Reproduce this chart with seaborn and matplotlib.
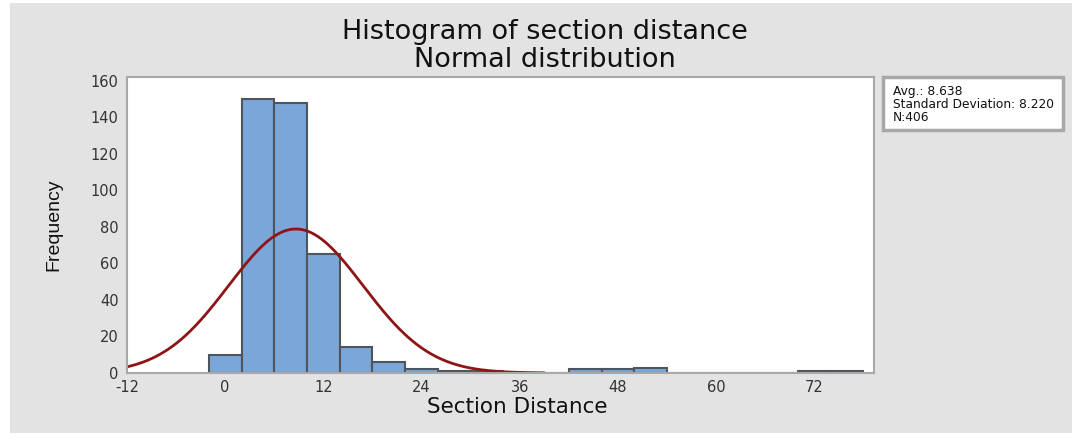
import numpy as np
import pandas as pd
import matplotlib
matplotlib.use("Agg")
import matplotlib.pyplot as plt
from matplotlib import font_manager
import seaborn as sns
from matplotlib.patches import Rectangle

# ---- data ----
bin_centers = [0, 4, 8, 12, 16, 20, 24, 28, 32, 44, 48, 52, 72, 76]
counts = [10, 150, 148, 65, 14, 6, 2, 1, 1, 2, 2, 3, 1, 1]
avg = 8.638
std_dev = 8.220
n_obs = 406
bin_width = 4
x_ticks = [-12, 0, 12, 24, 36, 48, 60, 72]
y_ticks = [0, 20, 40, 60, 80, 100, 120, 140, 160]
title_lines = ["Histogram of section distance", "Normal distribution"]
x_label = "Section Distance"
y_label = "Frequency"

df = pd.DataFrame({"center": bin_centers, "count": counts})

sns.set_theme(style="white")
plt.rcParams["font.family"] = ["DejaVu Sans"]
plt.rcParams["axes.unicode_minus"] = False


def has_font(name):
    try:
        font_manager.findfont(font_manager.FontProperties(family=name), fallback_to_default=False)
        return True
    except Exception:
        return False


if has_font("Liberation Sans Narrow"):
    ylab_family, ylab_size = ["Liberation Sans Narrow", "DejaVu Sans"], 16
else:
    ylab_family, ylab_size = ["Liberation Sans", "DejaVu Sans"], 14

fig = plt.figure(figsize=(10.72, 4.33), dpi=100)
fig.patch.set_facecolor("#e3e3e3")
fig.patches.append(Rectangle((0, 0), 10 / 1072, 1, transform=fig.transFigure,
                             facecolor="white", edgecolor="none", zorder=0))
fig.patches.append(Rectangle((0, 1 - 3 / 433), 1, 3 / 433, transform=fig.transFigure,
                             facecolor="white", edgecolor="none", zorder=0))

ax = fig.add_axes([127 / 1072, 1 - 373 / 433, (874 - 127) / 1072, (373 - 77) / 433])
ax.set_facecolor("white")

sns.histplot(data=df, x="center", weights="count", binwidth=bin_width,
             binrange=(min(bin_centers) - bin_width / 2, max(bin_centers) + bin_width / 2),
             ax=ax, color="#7aa6d8", edgecolor="#50555c", linewidth=1.5, alpha=1.0)

# fitted normal curve
xs = np.linspace(-12, 39, 400)
ys = n_obs * bin_width * np.exp(-0.5 * ((xs - avg) / std_dev) ** 2) / (std_dev * np.sqrt(2 * np.pi))
sns.lineplot(x=xs, y=ys, ax=ax, color="#8e1515", linewidth=2.0)

ax.set_xlim(-12, 79.3)
ax.set_ylim(0, 162)
ax.set_xticks(x_ticks)
ax.set_yticks(y_ticks)
ax.tick_params(axis="both", direction="out", length=5, width=1, color="#9a9a9a",
               labelsize=10.5, labelcolor="#333333", pad=1)
ax.tick_params(axis="x", pad=0)
for s in ax.spines.values():
    s.set_color("#a8a8a8")
    s.set_linewidth(1.5)
ax.set_xlabel(x_label, fontsize=15.5, color="#111111")
ax.xaxis.set_label_coords((517 - 127) / (874 - 127), -(407 - 373) / (373 - 77))
ax.xaxis.label.set_va("center")
ax.set_ylabel(y_label, fontsize=ylab_size, color="#111111", family=ylab_family)
ax.yaxis.set_label_coords(-(127 - 62) / (874 - 127), 0.5)

fig.text(0.508, 1 - 32 / 433, title_lines[0], ha="center", va="center", fontsize=19.5, color="#111111")
fig.text(0.508, 1 - 60 / 433, title_lines[1], ha="center", va="center", fontsize=19.5, color="#111111")

# stats box
box = Rectangle((883 / 1072, 1 - 130 / 433), (1063 - 883) / 1072, (130 - 77) / 433,
                transform=fig.transFigure, facecolor="white", edgecolor="#a8a8a8",
                linewidth=2.5, zorder=2)
fig.patches.append(box)
stats = [f"Avg.: {avg:.3f}", f"Standard Deviation: {std_dev:.3f}", f"N:{n_obs}"]
for i, t in enumerate(stats):
    fig.text(893 / 1072, 1 - (91 + 13.5 * i) / 433, t, ha="left", va="center",
             fontsize=8.8, color="#111111", zorder=3)

fig.savefig("out.png", dpi=100, facecolor=fig.get_facecolor())
